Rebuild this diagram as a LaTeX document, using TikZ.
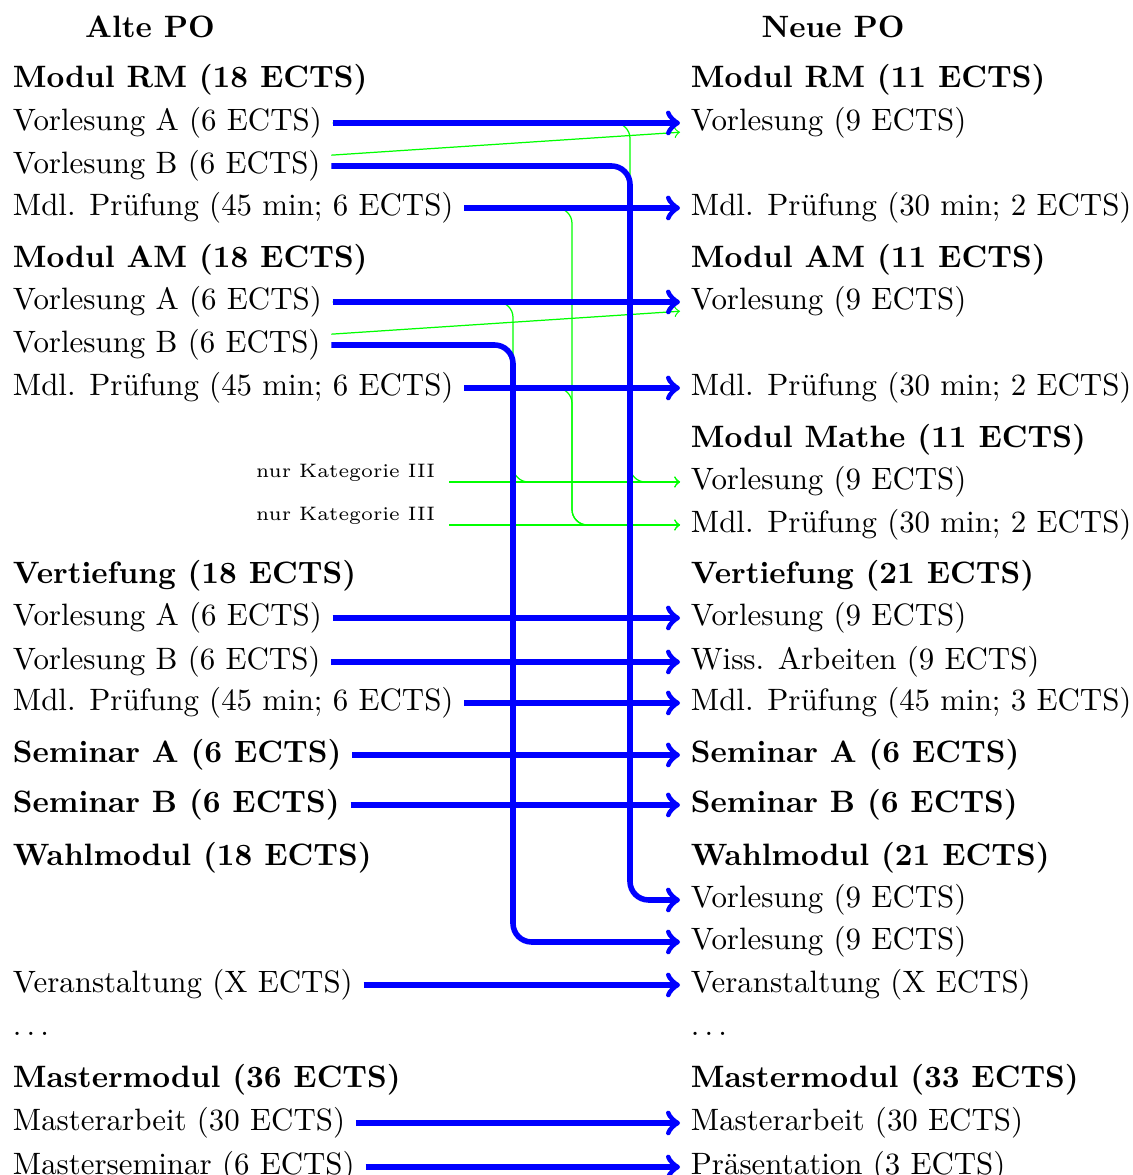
\documentclass[tikz,border=0pt]{standalone}
\begin{document}
\begin{tikzpicture}[x=0.3236pt,y=-0.3236pt,
	alt/.style={anchor=base west},
	kopf/.style={anchor=base west,font=\bfseries},
	kat/.style={anchor=base east,font=\fontsize{6.3}{7.5}\selectfont},
	blau/.style={->,line width=1.8pt,blue,rounded corners=6pt},
	gruen/.style={->,thin,green,rounded corners=5pt}]
	\useasboundingbox (0,0) rectangle (1132,1175);
	% Ueberschriften
	\node[anchor=base,font=\bfseries] (alt) at (150,38) {Alte PO};
	\node[anchor=base,font=\bfseries] (neu) at (833,38) {Neue PO};
	% alte PO
	\node[kopf] (aRM) at (2,88) {Modul RM (18 ECTS)};
	\node[alt] (aRMa) at (2,130.7) {Vorlesung A (6 ECTS)};
	\node[alt] (aRMb) at (2,173.7) {Vorlesung B (6 ECTS)};
	\node[alt] (aRMp) at (2,215.7) {Mdl. Prüfung (45 min; 6 ECTS)};
	\node[kopf] (aAM) at (2,267.7) {Modul AM (18 ECTS)};
	\node[alt] (aAMa) at (2,309.7) {Vorlesung A (6 ECTS)};
	\node[alt] (aAMb) at (2,352.7) {Vorlesung B (6 ECTS)};
	\node[alt] (aAMp) at (2,395.7) {Mdl. Prüfung (45 min; 6 ECTS)};
	\node[kat] (kat1) at (446,477.3) {nur Kategorie III};
	\node[kat] (kat2) at (446,520.7) {nur Kategorie III};
	\node[kopf] (aV) at (2,583) {Vertiefung (18 ECTS)};
	\node[alt] (aVa) at (2,625.7) {Vorlesung A (6 ECTS)};
	\node[alt] (aVb) at (2,669.7) {Vorlesung B (6 ECTS)};
	\node[alt] (aVp) at (2,710.7) {Mdl. Prüfung (45 min; 6 ECTS)};
	\node[kopf] (aSA) at (2,762.7) {Seminar A (6 ECTS)};
	\node[kopf] (aSB) at (2,812.7) {Seminar B (6 ECTS)};
	\node[kopf] (aW) at (2,865) {Wahlmodul (18 ECTS)};
	\node[alt] (aX) at (2,992.7) {Veranstaltung (X ECTS)};
	\node[alt] (aDots) at (2,1035.7) {$\ldots$};
	\node[kopf] (aMM) at (2,1087) {Mastermodul (36 ECTS)};
	\node[alt] (aMMa) at (2,1130.7) {Masterarbeit (30 ECTS)};
	\node[alt] (aMMs) at (2,1174.7) {Masterseminar (6 ECTS)};
	% neue PO
	\node[kopf] (nRM) at (680,88) {Modul RM (11 ECTS)};
	\node[alt] (nRMv) at (680,130.7) {Vorlesung (9 ECTS)};
	\node[alt] (nRMp) at (680,215.7) {Mdl. Prüfung (30 min; 2 ECTS)};
	\node[kopf] (nAM) at (680,267.7) {Modul AM (11 ECTS)};
	\node[alt] (nAMv) at (680,309.7) {Vorlesung (9 ECTS)};
	\node[alt] (nAMp) at (680,395.7) {Mdl. Prüfung (30 min; 2 ECTS)};
	\node[kopf] (nMath) at (680,447) {Modul Mathe (11 ECTS)};
	\node[alt] (nMathv) at (680,489.7) {Vorlesung (9 ECTS)};
	\node[alt] (nMathp) at (680,532.7) {Mdl. Prüfung (30 min; 2 ECTS)};
	\node[kopf] (nV) at (680,583) {Vertiefung (21 ECTS)};
	\node[alt] (nVv) at (680,625.7) {Vorlesung (9 ECTS)};
	\node[alt] (nVw) at (680,669.7) {Wiss. Arbeiten (9 ECTS)};
	\node[alt] (nVp) at (680,710.7) {Mdl. Prüfung (45 min; 3 ECTS)};
	\node[kopf] (nSA) at (680,762.7) {Seminar A (6 ECTS)};
	\node[kopf] (nSB) at (680,812.7) {Seminar B (6 ECTS)};
	\node[kopf] (nW) at (680,865) {Wahlmodul (21 ECTS)};
	\node[alt] (nWa) at (680,907.7) {Vorlesung (9 ECTS)};
	\node[alt] (nWb) at (680,949.7) {Vorlesung (9 ECTS)};
	\node[alt] (nX) at (680,992.7) {Veranstaltung (X ECTS)};
	\node[alt] (nDots) at (680,1035.7) {$\ldots$};
	\node[kopf] (nMM) at (680,1087) {Mastermodul (33 ECTS)};
	\node[alt] (nMMa) at (680,1130.7) {Masterarbeit (30 ECTS)};
	\node[alt] (nMMp) at (680,1174.7) {Präsentation (3 ECTS)};
	% Kanaele fuer die Umwege
	\coordinate (kanalRM) at (630,400);
	\coordinate (kanalAM) at (513,400);
	\coordinate (kanalP) at (572,450);
	\coordinate (k1) at (449,482);
	\coordinate (k2) at (449,525);
	% gruene Zuordnungen
	\draw[gruen] (aRMa.east) -| (kanalRM) |- (nMathv.west);
	\draw[gruen] (aAMa.east) -| (kanalAM) |- (nMathv.west);
	\draw[gruen] (aRMp.east) -| (kanalP) |- (nMathp.west);
	\draw[gruen] (aAMp.east) -| (kanalP) |- (nMathp.west);
	\draw[gruen] ([yshift=3.5pt]aRMb.east) -- ([yshift=-3pt]nRMv.west);
	\draw[gruen] ([yshift=3.5pt]aAMb.east) -- ([yshift=-3pt]nAMv.west);
	\draw[gruen] (nMathv.west -| k1) -- (nMathv.west);
	\draw[gruen] (nMathp.west -| k2) -- (nMathp.west);
	% blaue Zuordnungen
	\foreach \a/\b in {aRMa/nRMv,aRMp/nRMp,aAMa/nAMv,aAMp/nAMp,aVa/nVv,aVb/nVw,aVp/nVp,aSA/nSA,aSB/nSB,aX/nX,aMMa/nMMa,aMMs/nMMp}
	{
		\draw[blau] (\a.east) -- (\b.west);
	}
	\draw[blau] (aRMb.east) -| (kanalRM) |- (nWa.west);
	\draw[blau] (aAMb.east) -| (kanalAM) |- (nWb.west);
\end{tikzpicture}
\end{document}
